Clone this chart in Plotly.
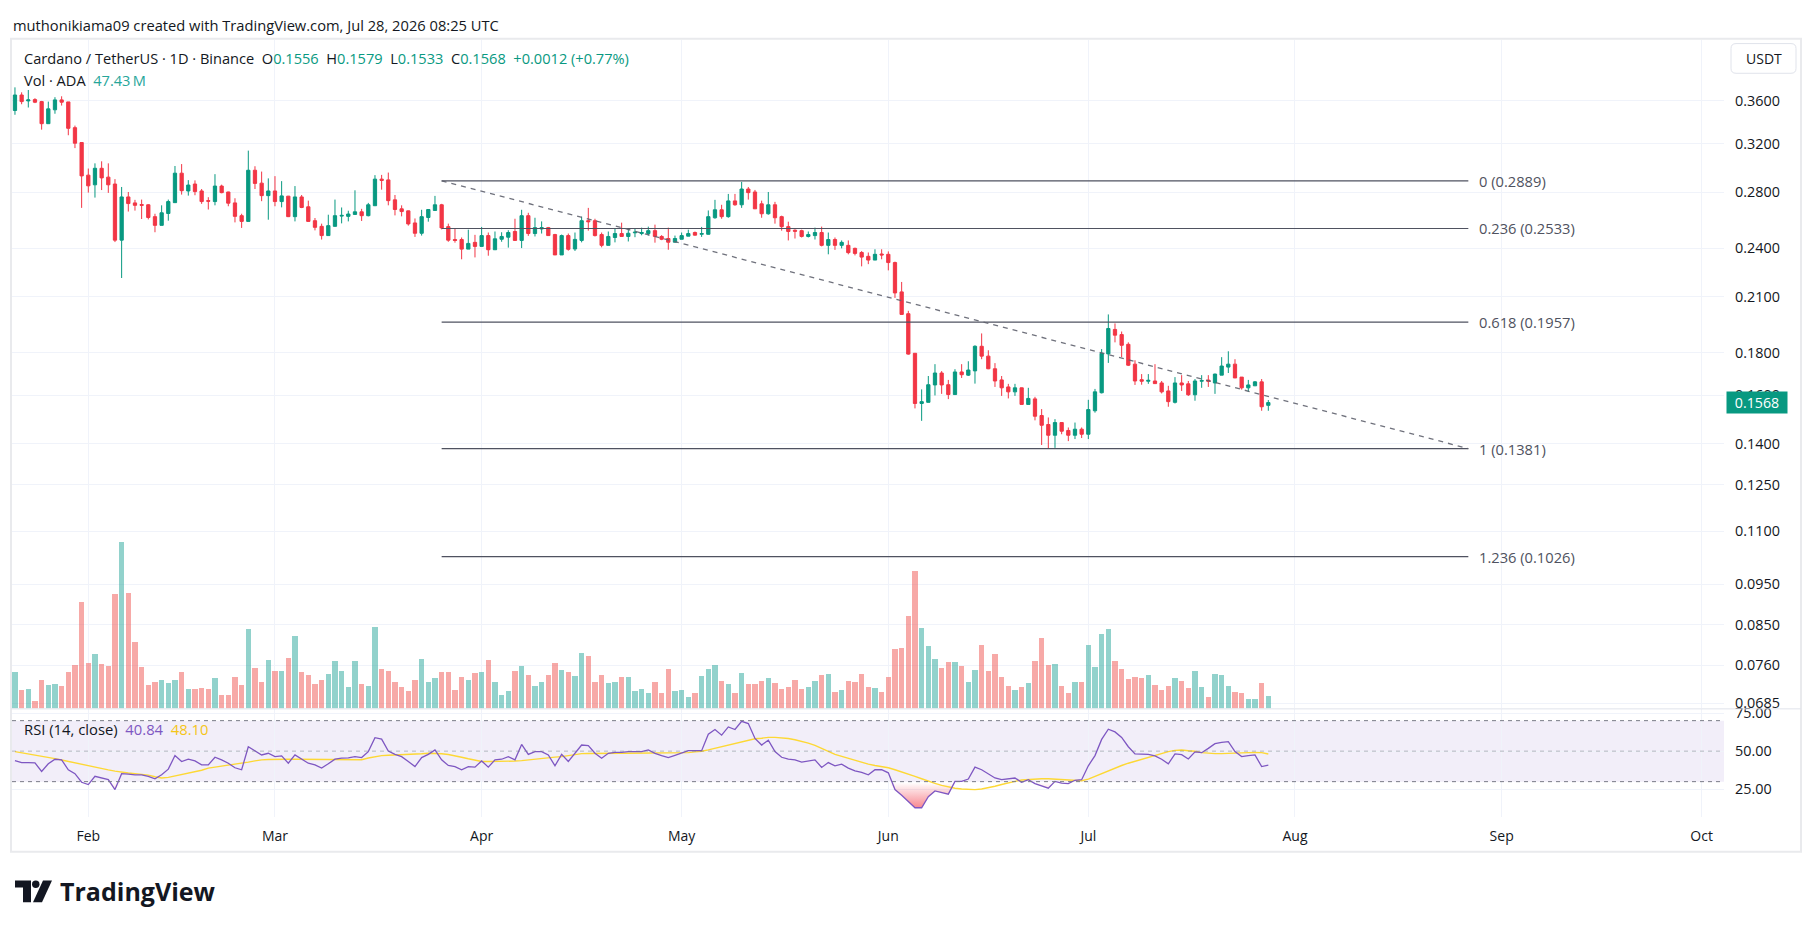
import math
import pandas as pd
import plotly.graph_objects as go

W, H = 1814, 931


def px(x):
    return x / W


def py(y):
    return 1 - y / H


# ---------------- data ----------------
dates = pd.date_range("2026-01-21", periods=189, freq="D")

opens = [
    0.3506, 0.3659, 0.3600, 0.3613, 0.3593, 0.3381, 0.3513, 0.3610, 0.3590, 0.3344,
    0.3210, 0.2934, 0.2857, 0.2990, 0.2918, 0.2863, 0.2453, 0.2763, 0.2718, 0.2706,
    0.2704, 0.2617, 0.2555, 0.2640, 0.2720, 0.2950, 0.2809, 0.2863, 0.2809, 0.2735,
    0.2728, 0.2847, 0.2801, 0.2718, 0.2624, 0.2583, 0.2974, 0.2870, 0.2773, 0.2809,
    0.2728, 0.2769, 0.2617, 0.2763, 0.2689, 0.2588, 0.2548, 0.2484, 0.2548, 0.2621,
    0.2619, 0.2633, 0.2652, 0.2624, 0.2697, 0.2902, 0.2896, 0.2741, 0.2674, 0.2659,
    0.2572, 0.2500, 0.2611, 0.2662, 0.2704, 0.2546, 0.2457, 0.2457, 0.2393, 0.2438,
    0.2411, 0.2484, 0.2389, 0.2459, 0.2473, 0.2512, 0.2451, 0.2624, 0.2498, 0.2530,
    0.2539, 0.2491, 0.2355, 0.2484, 0.2394, 0.2451, 0.2588, 0.2588, 0.2491, 0.2418,
    0.2471, 0.2498, 0.2478, 0.2503, 0.2498, 0.2498, 0.2518, 0.2478, 0.2464, 0.2439,
    0.2459, 0.2480, 0.2505, 0.2493, 0.2493, 0.2609, 0.2667, 0.2617, 0.2733, 0.2704,
    0.2824, 0.2801, 0.2711, 0.2638, 0.2704, 0.2617, 0.2546, 0.2521, 0.2518, 0.2478,
    0.2484, 0.2505, 0.2418, 0.2457, 0.2418, 0.2418, 0.2398, 0.2371, 0.2346, 0.2322,
    0.2361, 0.2359, 0.2306, 0.2127, 0.2003, 0.1796, 0.1564, 0.1569, 0.1646, 0.1701,
    0.1647, 0.1603, 0.1706, 0.1691, 0.1711, 0.1831, 0.1782, 0.1721, 0.1669, 0.1637,
    0.1615, 0.1633, 0.1560, 0.1584, 0.1513, 0.1476, 0.1433, 0.1484, 0.1452, 0.1433,
    0.1457, 0.1437, 0.1533, 0.1611, 0.1793, 0.1918, 0.1891, 0.1841, 0.1743, 0.1670,
    0.1663, 0.1664, 0.1655, 0.1619, 0.1569, 0.1655, 0.1651, 0.1602, 0.1663, 0.1668,
    0.1655, 0.1691, 0.1729, 0.1743, 0.1682, 0.1633, 0.1642, 0.1660, 0.1556,
]

highs = [
    0.3737, 0.3686, 0.3710, 0.3627, 0.3600, 0.3593, 0.3637, 0.3646, 0.3590, 0.3363,
    0.3210, 0.2988, 0.3031, 0.3048, 0.3031, 0.2902, 0.2840, 0.2801, 0.2741, 0.2743,
    0.2709, 0.2638, 0.2700, 0.2743, 0.3009, 0.3025, 0.2894, 0.2892, 0.2824, 0.2761,
    0.2942, 0.2858, 0.2803, 0.2753, 0.2638, 0.3139, 0.3007, 0.2963, 0.2908, 0.2926,
    0.2886, 0.2771, 0.2847, 0.2778, 0.2735, 0.2607, 0.2567, 0.2631, 0.2743, 0.2684,
    0.2660, 0.2814, 0.2674, 0.2718, 0.2934, 0.2936, 0.2955, 0.2778, 0.2700, 0.2661,
    0.2604, 0.2667, 0.2669, 0.2771, 0.2711, 0.2567, 0.2530, 0.2471, 0.2525, 0.2489,
    0.2544, 0.2505, 0.2512, 0.2507, 0.2521, 0.2602, 0.2667, 0.2645, 0.2609, 0.2583,
    0.2544, 0.2496, 0.2491, 0.2498, 0.2505, 0.2617, 0.2681, 0.2602, 0.2505, 0.2512,
    0.2530, 0.2574, 0.2530, 0.2530, 0.2539, 0.2546, 0.2560, 0.2487, 0.2539, 0.2484,
    0.2505, 0.2525, 0.2512, 0.2544, 0.2662, 0.2741, 0.2704, 0.2786, 0.2786, 0.2880,
    0.2840, 0.2817, 0.2735, 0.2801, 0.2726, 0.2624, 0.2581, 0.2527, 0.2525, 0.2512,
    0.2539, 0.2546, 0.2505, 0.2471, 0.2451, 0.2451, 0.2403, 0.2380, 0.2371, 0.2392,
    0.2392, 0.2378, 0.2312, 0.2186, 0.2019, 0.1796, 0.1626, 0.1687, 0.1743, 0.1710,
    0.1669, 0.1719, 0.1743, 0.1757, 0.1836, 0.1897, 0.1811, 0.1748, 0.1687, 0.1651,
    0.1651, 0.1634, 0.1633, 0.1593, 0.1540, 0.1505, 0.1498, 0.1485, 0.1464, 0.1484,
    0.1464, 0.1580, 0.1628, 0.1817, 0.1999, 0.1950, 0.1907, 0.1851, 0.1762, 0.1696,
    0.1696, 0.1743, 0.1664, 0.1642, 0.1682, 0.1691, 0.1664, 0.1673, 0.1691, 0.1691,
    0.1698, 0.1777, 0.1806, 0.1767, 0.1682, 0.1669, 0.1664, 0.1673, 0.1579,
]

lows = [
    0.3465, 0.3567, 0.3535, 0.3578, 0.3326, 0.3381, 0.3475, 0.3554, 0.3275, 0.3161,
    0.2681, 0.2796, 0.2758, 0.2816, 0.2794, 0.2440, 0.2210, 0.2654, 0.2661, 0.2600,
    0.2597, 0.2507, 0.2555, 0.2588, 0.2720, 0.2781, 0.2773, 0.2776, 0.2711, 0.2669,
    0.2700, 0.2791, 0.2693, 0.2576, 0.2537, 0.2583, 0.2824, 0.2731, 0.2595, 0.2693,
    0.2685, 0.2614, 0.2583, 0.2679, 0.2581, 0.2520, 0.2457, 0.2484, 0.2548, 0.2569,
    0.2583, 0.2631, 0.2586, 0.2619, 0.2697, 0.2819, 0.2700, 0.2626, 0.2619, 0.2553,
    0.2475, 0.2484, 0.2581, 0.2662, 0.2527, 0.2442, 0.2436, 0.2327, 0.2393, 0.2339,
    0.2411, 0.2350, 0.2389, 0.2442, 0.2403, 0.2449, 0.2400, 0.2482, 0.2478, 0.2498,
    0.2482, 0.2355, 0.2355, 0.2383, 0.2381, 0.2438, 0.2518, 0.2478, 0.2405, 0.2418,
    0.2438, 0.2478, 0.2444, 0.2473, 0.2486, 0.2484, 0.2436, 0.2453, 0.2389, 0.2439,
    0.2459, 0.2480, 0.2484, 0.2475, 0.2491, 0.2602, 0.2602, 0.2609, 0.2697, 0.2681,
    0.2743, 0.2674, 0.2609, 0.2631, 0.2567, 0.2518, 0.2451, 0.2464, 0.2471, 0.2471,
    0.2457, 0.2411, 0.2359, 0.2388, 0.2398, 0.2359, 0.2352, 0.2282, 0.2296, 0.2322,
    0.2327, 0.2257, 0.2092, 0.1997, 0.1789, 0.1543, 0.1491, 0.1569, 0.1599, 0.1606,
    0.1583, 0.1603, 0.1678, 0.1687, 0.1652, 0.1767, 0.1719, 0.1637, 0.1597, 0.1586,
    0.1597, 0.1559, 0.1560, 0.1493, 0.1395, 0.1380, 0.1384, 0.1437, 0.1410, 0.1418,
    0.1422, 0.1418, 0.1525, 0.1608, 0.1749, 0.1851, 0.1777, 0.1734, 0.1646, 0.1647,
    0.1651, 0.1651, 0.1608, 0.1550, 0.1564, 0.1619, 0.1597, 0.1576, 0.1633, 0.1637,
    0.1606, 0.1691, 0.1701, 0.1678, 0.1625, 0.1615, 0.1642, 0.1533, 0.1533,
]

closes = [
    0.3659, 0.3593, 0.3610, 0.3587, 0.3381, 0.3522, 0.3610, 0.3587, 0.3338, 0.3204,
    0.2928, 0.2849, 0.2990, 0.2912, 0.2857, 0.2453, 0.2763, 0.2713, 0.2700, 0.2700,
    0.2611, 0.2555, 0.2645, 0.2728, 0.2950, 0.2811, 0.2855, 0.2804, 0.2728, 0.2731,
    0.2847, 0.2796, 0.2716, 0.2619, 0.2583, 0.2974, 0.2868, 0.2773, 0.2809, 0.2728,
    0.2771, 0.2617, 0.2763, 0.2684, 0.2583, 0.2541, 0.2484, 0.2553, 0.2624, 0.2626,
    0.2636, 0.2652, 0.2624, 0.2704, 0.2902, 0.2892, 0.2735, 0.2669, 0.2654, 0.2565,
    0.2500, 0.2617, 0.2669, 0.2704, 0.2537, 0.2453, 0.2451, 0.2393, 0.2431, 0.2411,
    0.2484, 0.2389, 0.2462, 0.2478, 0.2505, 0.2451, 0.2624, 0.2498, 0.2539, 0.2539,
    0.2484, 0.2355, 0.2484, 0.2392, 0.2458, 0.2588, 0.2581, 0.2484, 0.2418, 0.2478,
    0.2498, 0.2478, 0.2500, 0.2507, 0.2505, 0.2518, 0.2478, 0.2459, 0.2439, 0.2464,
    0.2484, 0.2498, 0.2487, 0.2498, 0.2617, 0.2667, 0.2617, 0.2733, 0.2704, 0.2824,
    0.2796, 0.2674, 0.2638, 0.2704, 0.2609, 0.2546, 0.2512, 0.2514, 0.2478, 0.2491,
    0.2505, 0.2418, 0.2457, 0.2418, 0.2438, 0.2370, 0.2365, 0.2341, 0.2322, 0.2359,
    0.2355, 0.2306, 0.2121, 0.1999, 0.1792, 0.1564, 0.1572, 0.1647, 0.1701, 0.1646,
    0.1603, 0.1706, 0.1693, 0.1715, 0.1831, 0.1782, 0.1721, 0.1664, 0.1633, 0.1615,
    0.1633, 0.1560, 0.1586, 0.1510, 0.1473, 0.1433, 0.1484, 0.1449, 0.1433, 0.1457,
    0.1437, 0.1538, 0.1615, 0.1796, 0.1923, 0.1888, 0.1836, 0.1738, 0.1664, 0.1663,
    0.1667, 0.1652, 0.1615, 0.1572, 0.1655, 0.1646, 0.1602, 0.1664, 0.1666, 0.1663,
    0.1696, 0.1734, 0.1743, 0.1678, 0.1633, 0.1646, 0.1660, 0.1550, 0.1568,
]

# daily volume, millions of ADA
volumes = [
    135.1, 69.4, 73.0, 29.2, 105.9, 87.6, 91.3, 84.0, 135.1, 160.6,
    394.2, 167.9, 200.8, 164.3, 157.0, 423.4, 616.9, 427.1, 244.6, 153.3,
    87.6, 98.6, 105.9, 94.9, 105.9, 135.1, 73.0, 73.0, 76.7, 73.0,
    113.2, 51.1, 51.1, 116.8, 87.6, 295.7, 149.7, 98.6, 178.9, 138.7,
    138.7, 186.2, 270.1, 135.1, 124.1, 91.3, 105.9, 127.8, 175.2, 138.7,
    80.3, 175.2, 91.3, 84.0, 303.0, 146.0, 138.7, 98.6, 80.3, 65.7,
    105.9, 182.5, 98.6, 113.2, 135.1, 135.1, 69.4, 116.8, 105.9, 131.4,
    135.1, 178.9, 98.6, 51.1, 65.7, 138.7, 157.0, 124.1, 84.0, 98.6,
    124.1, 167.9, 142.4, 135.1, 120.5, 204.4, 193.5, 98.6, 124.1, 94.9,
    98.6, 116.8, 116.8, 65.7, 73.0, 58.4, 98.6, 58.4, 146.0, 65.7,
    69.4, 43.8, 58.4, 120.5, 146.0, 160.6, 102.2, 91.3, 58.4, 131.4,
    91.3, 91.3, 102.2, 113.2, 94.9, 73.0, 80.3, 105.9, 73.0, 80.3,
    102.2, 124.1, 127.8, 62.1, 69.4, 102.2, 98.6, 127.8, 80.3, 76.7,
    62.1, 116.8, 219.0, 222.7, 343.1, 507.4, 299.3, 230.0, 182.5, 149.7,
    171.6, 171.6, 157.0, 98.6, 142.4, 233.6, 138.7, 200.8, 116.8, 84.0,
    69.4, 80.3, 94.9, 175.2, 259.2, 160.6, 164.3, 84.0, 58.4, 98.6,
    98.6, 233.6, 153.3, 277.4, 295.7, 175.2, 146.0, 109.5, 116.8, 113.2,
    124.1, 87.6, 69.4, 84.0, 113.2, 102.2, 76.7, 138.7, 80.3, 43.8,
    127.8, 124.1, 84.0, 62.1, 58.4, 36.5, 36.5, 94.9, 47.43,
]

rsi_values = [
    43.8, 42.5, 42.5, 42.3, 36.7, 41.7, 44.7, 44.3, 37.8, 35.2,
    29.6, 28.1, 33.5, 32.4, 31.3, 24.8, 35.2, 35.0, 34.5, 34.5,
    33.5, 31.9, 34.5, 38.2, 47.1, 43.2, 44.7, 43.6, 41.0, 41.0,
    46.0, 44.3, 42.1, 39.1, 37.8, 52.9, 50.3, 47.5, 48.6, 46.4,
    46.9, 42.1, 47.5, 44.7, 42.1, 41.0, 38.9, 41.7, 44.7, 45.4,
    45.6, 46.4, 45.8, 49.7, 58.8, 57.9, 50.1, 47.9, 46.4, 43.2,
    39.9, 45.8, 47.9, 50.8, 44.3, 40.6, 39.9, 37.8, 39.9, 39.5,
    43.6, 39.5, 44.3, 44.7, 46.4, 44.3, 54.4, 47.9, 49.7, 49.7,
    47.5, 40.4, 47.9, 43.2, 48.6, 54.0, 53.6, 48.6, 45.4, 48.6,
    49.2, 49.2, 49.7, 49.9, 49.7, 50.8, 48.6, 47.1, 45.8, 47.3,
    48.6, 50.3, 50.3, 50.3, 61.1, 64.2, 60.5, 65.9, 64.2, 69.6,
    68.1, 58.3, 54.0, 57.2, 49.7, 46.0, 44.7, 44.3, 42.8, 43.6,
    44.3, 39.3, 42.5, 40.4, 41.5, 38.9, 37.1, 36.1, 34.5, 37.8,
    37.8, 35.8, 24.8, 21.1, 17.2, 12.9, 12.9, 20.1, 23.9, 22.9,
    21.8, 30.2, 30.2, 31.7, 39.5, 37.8, 35.0, 32.4, 31.3, 31.7,
    32.4, 29.6, 31.3, 28.7, 27.0, 25.7, 30.2, 29.1, 28.7, 30.9,
    31.3, 40.4, 47.1, 57.7, 64.4, 62.6, 59.0, 52.9, 48.2, 47.9,
    47.9, 46.9, 44.7, 41.7, 48.2, 47.7, 44.9, 49.5, 49.0, 51.8,
    54.9, 55.7, 56.2, 49.7, 46.4, 47.1, 47.5, 39.9, 40.84,
]

rsi_ma_values = [
    49.7, 49.0, 48.3, 47.6, 46.9, 46.0, 45.1, 44.2, 43.2, 42.2,
    41.3, 40.3, 39.3, 38.5, 37.7, 36.9, 36.1, 35.7, 35.3, 35.0,
    34.3, 33.2, 32.4, 32.8, 33.7, 34.6, 35.6, 36.5, 37.5, 38.9,
    39.5, 40.0, 40.6, 41.2, 42.0, 42.8, 43.6, 44.3, 44.5, 44.7,
    44.7, 44.7, 44.7, 44.7, 44.7, 44.7, 44.7, 44.7, 44.6, 44.5,
    44.3, 44.4, 44.4, 45.5, 46.5, 47.1, 47.3, 47.4, 47.5, 47.7,
    48.0, 48.3, 48.6, 48.6, 48.3, 47.8, 47.1, 46.0, 45.0, 44.0,
    43.2, 43.2, 43.2, 43.2, 43.3, 43.5, 43.8, 44.3, 44.8, 45.4,
    45.8, 46.1, 46.4, 47.0, 47.8, 48.4, 48.5, 48.6, 48.6, 48.6,
    48.6, 48.6, 48.6, 48.6, 48.6, 48.6, 48.6, 48.6, 48.6, 48.6,
    48.8, 49.0, 49.5, 49.9, 50.8, 51.8, 52.7, 53.6, 54.6, 55.9,
    56.8, 58.1, 58.5, 59.0, 59.0, 58.8, 58.3, 57.5, 56.6, 55.3,
    53.8, 51.6, 49.9, 47.9, 46.6, 45.4, 44.1, 42.8, 41.5, 40.6,
    39.9, 39.1, 37.8, 36.5, 35.0, 33.5, 31.9, 30.2, 28.9, 27.6,
    26.5, 25.7, 25.2, 24.8, 24.8, 25.2, 25.9, 27.0, 28.1, 29.4,
    30.2, 31.1, 31.5, 31.9, 31.9, 31.9, 31.7, 31.5, 31.1, 30.9,
    30.6, 31.7, 33.5, 35.2, 37.4, 39.1, 40.6, 42.1, 43.4, 44.7,
    45.8, 47.3, 48.6, 49.7, 50.5, 50.8, 50.3, 49.9, 49.0, 48.6,
    48.4, 48.4, 48.6, 49.0, 49.2, 49.2, 49.2, 49.0, 48.1,
]

for arr in (opens, highs, lows, closes, volumes, rsi_values, rsi_ma_values):
    assert len(arr) == len(dates), len(arr)

price_ticks = [0.36, 0.32, 0.28, 0.24, 0.21, 0.18, 0.16, 0.14, 0.125, 0.11,
               0.095, 0.085, 0.076, 0.0685]
price_tick_text = [f"{v:.4f}" for v in price_ticks]
rsi_ticks = [25, 50, 75]
rsi_tick_text = [f"{v:.2f}" for v in rsi_ticks]
month_ticks = list(pd.date_range("2026-02-01", "2026-10-01", freq="MS"))
month_labels = [d.strftime("%b") for d in month_ticks]

fib_t0, fib_t1 = "2026-03-26", "2026-08-27"
fib_p0, fib_p1 = 0.28888, 0.13814
fib_levels = [0, 0.236, 0.618, 1, 1.236]

last_price = 0.1568
ohlc_last = dict(o="0.1556", h="0.1579", l="0.1533", c="0.1568", chg="+0.0012 (+0.77%)")
vol_last = "47.43\u2009M"
rsi_last, rsi_ma_last = "40.84", "48.10"

# ---------------- styles ----------------
GREEN = "#089981"
RED = "#f23645"
TXT = "#131722"
GRID = "#f0f3fa"
FONT = "'Open Sans', Roboto, sans-serif"
FIB_C = "#4f5260"

x_left, x_right = 12, 1724
price_top, price_bot = 34, 710
rsi_top, rsi_bot = 711, 820
x_range = ["2026-01-20 13:20:00", "2026-10-04 08:24:00"]
price_range = [math.log10(0.06752), math.log10(0.4262)]
rsi_range = [6.7, 77.4]
vol_range = [0, (price_bot - price_top) * 3.65]

fig = go.Figure()

# volume (overlay on price pane)
vol_colors = ["rgba(38,166,154,0.5)" if c >= o else "rgba(239,83,80,0.5)"
              for o, c in zip(opens, closes)]
fig.add_trace(go.Bar(
    x=dates, y=volumes, marker=dict(color=vol_colors, line=dict(width=0)),
    width=0.78 * 86400000, xaxis="x", yaxis="y3", hoverinfo="skip", showlegend=False))

# candles
fig.add_trace(go.Candlestick(
    x=dates, open=opens, high=highs, low=lows, close=closes,
    increasing=dict(line=dict(color=GREEN, width=1), fillcolor=GREEN),
    decreasing=dict(line=dict(color=RED, width=1), fillcolor=RED),
    whiskerwidth=0, xaxis="x", yaxis="y", hoverinfo="skip", showlegend=False))

# fib retracement levels
annotations = []
for lvl in fib_levels:
    p = fib_p0 - lvl * (fib_p0 - fib_p1)
    fig.add_trace(go.Scatter(
        x=[fib_t0, fib_t1], y=[p, p], mode="lines",
        line=dict(color=FIB_C, width=1.2), xaxis="x", yaxis="y",
        hoverinfo="skip", showlegend=False))
    annotations.append(dict(
        x=fib_t1, y=math.log10(p), xref="x", yref="y", xanchor="left", yanchor="middle",
        xshift=9, text=f"{lvl:g} ({p:.4f})", showarrow=False,
        font=dict(family=FONT, size=14.7, color=FIB_C)))

# fib trend line (dashed)
fig.add_trace(go.Scatter(
    x=[fib_t0, fib_t1], y=[fib_p0, fib_p1], mode="lines",
    line=dict(color="rgba(95,98,110,0.9)", width=1.3, dash="5px,5px"),
    xaxis="x", yaxis="y", hoverinfo="skip", showlegend=False))

# RSI oversold gradient fill
fig.add_trace(go.Scatter(
    x=dates, y=[30] * len(dates), mode="lines", line=dict(width=0, color="rgba(0,0,0,0)"),
    xaxis="x", yaxis="y2", hoverinfo="skip", showlegend=False))
fig.add_trace(go.Scatter(
    x=dates, y=[min(v, 30) for v in rsi_values], mode="lines",
    line=dict(width=0, color="rgba(0,0,0,0)"), fill="tonexty",
    fillgradient=dict(type="vertical", start=12, stop=30,
                      colorscale=[[0, "rgba(242,54,69,0.65)"], [1, "rgba(242,54,69,0.0)"]]),
    xaxis="x", yaxis="y2", hoverinfo="skip", showlegend=False))

fig.add_trace(go.Scatter(
    x=dates, y=rsi_ma_values, mode="lines", line=dict(color="#fdd835", width=1.4),
    xaxis="x", yaxis="y2", hoverinfo="skip", showlegend=False))
fig.add_trace(go.Scatter(
    x=dates, y=rsi_values, mode="lines", line=dict(color="#7e57c2", width=1.3),
    xaxis="x", yaxis="y2", hoverinfo="skip", showlegend=False))

# ---------------- shapes ----------------
shapes = [
    # RSI band + levels
    dict(type="rect", xref="x domain", yref="y2", x0=0, x1=1, y0=30, y1=70,
         fillcolor="rgba(126,87,194,0.1)", line=dict(width=0), layer="below"),
    dict(type="line", xref="x domain", yref="y2", x0=0, x1=1, y0=70, y1=70,
         line=dict(color="#787b86", width=1, dash="4px,4px")),
    dict(type="line", xref="x domain", yref="y2", x0=0, x1=1, y0=30, y1=30,
         line=dict(color="#787b86", width=1, dash="4px,4px")),
    dict(type="line", xref="x domain", yref="y2", x0=0, x1=1, y0=50, y1=50,
         line=dict(color="rgba(120,123,134,0.5)", width=1, dash="4px,4px")),
    # chart frame
    dict(type="rect", xref="paper", yref="paper", x0=px(11), x1=px(1801), y0=py(855), y1=py(33),
         line=dict(color="#e9eaed", width=2), fillcolor="rgba(0,0,0,0)", layer="below"),
    # pane separator
    dict(type="line", xref="paper", yref="paper", x0=px(11), x1=px(1801), y0=py(710.5), y1=py(710.5),
         line=dict(color="#e0e3eb", width=1)),
]

# USDT button (rounded)
bx0, bx1, by0, by1, r = 1731, 1796, 38, 68, 5
path = (f"M {px(bx0 + r)},{py(by0)} L {px(bx1 - r)},{py(by0)} "
        f"Q {px(bx1)},{py(by0)} {px(bx1)},{py(by0 + r)} L {px(bx1)},{py(by1 - r)} "
        f"Q {px(bx1)},{py(by1)} {px(bx1 - r)},{py(by1)} L {px(bx0 + r)},{py(by1)} "
        f"Q {px(bx0)},{py(by1)} {px(bx0)},{py(by1 - r)} L {px(bx0)},{py(by0 + r)} "
        f"Q {px(bx0)},{py(by0)} {px(bx0 + r)},{py(by0)} Z")
shapes.append(dict(type="path", xref="paper", yref="paper", path=path,
                   line=dict(color="#e0e3eb", width=1), fillcolor="white"))


# TradingView logo glyph
def poly(pts):
    return "M " + " L ".join(f"{px(a)},{py(b)}" for a, b in pts) + " Z"


shapes += [
    dict(type="path", xref="paper", yref="paper",
         path=poly([(15, 884), (31, 884), (31, 906), (23, 906), (23, 891), (15, 891)]),
         fillcolor="#131722", line=dict(width=0)),
    dict(type="circle", xref="paper", yref="paper", x0=px(32), x1=px(39.5), y0=py(891.5), y1=py(884),
         fillcolor="#131722", line=dict(width=0)),
    dict(type="path", xref="paper", yref="paper",
         path=poly([(43, 884), (52, 884), (42, 906), (33, 906)]),
         fillcolor="#131722", line=dict(width=0)),
]


# ---------------- annotations ----------------
def ann(x, y, text, size=13, color=TXT, anchor="left", **kw):
    d = dict(x=px(x), y=py(y), xref="paper", yref="paper", xanchor=anchor, yanchor="middle",
             text=text, showarrow=False, font=dict(family=FONT, size=size, color=color))
    d.update(kw)
    return d


g = lambda s: f"<span style='color:{GREEN}'>{s}</span>"
nb = "\u00a0"
annotations += [
    ann(11, 19, "muthonikiama09 created with TradingView.com, Jul 28, 2026 08:25 UTC", size=14.7),
    ann(22, 52.5, f"Cardano / TetherUS · 1D · Binance{nb}{nb}O{g(ohlc_last['o'])}{nb}{nb}H{g(ohlc_last['h'])}"
                  f"{nb}{nb}L{g(ohlc_last['l'])}{nb}{nb}C{g(ohlc_last['c'])}{nb}{nb}{g(ohlc_last['chg'])}",
        size=14.6),
    ann(22, 74.5, f"Vol · ADA{nb}{nb}<span style='color:#26a69a'>{vol_last}</span>", size=14.6),
    ann(22, 731, f"RSI (14, close){nb}{nb}<span style='color:#7e57c2'>{rsi_last}</span>{nb}{nb}"
                 f"<span style='color:#f5c518'>{rsi_ma_last}</span>", size=14.8),
    ann(1763.5, 53, "USDT", size=14, anchor="center"),
    ann(58, 895, "<b>TradingView</b>", size=25),
    dict(x=px(1726), y=math.log10(last_price), xref="paper", yref="y", xanchor="left", yanchor="middle",
         text=f"{last_price:.4f}", showarrow=False, bgcolor=GREEN, width=58, height=19,
         font=dict(family=FONT, size=14.2, color="white")),
]

# ---------------- layout ----------------
y_tick_font = dict(family=FONT, size=14.4, color=TXT)
x_tick_font = dict(family=FONT, size=14, color=TXT)
fig.update_layout(
    width=W, height=H, autosize=False,
    margin=dict(l=0, r=0, t=0, b=0, pad=0),
    paper_bgcolor="white", plot_bgcolor="rgba(0,0,0,0)",
    showlegend=False, hovermode=False, bargap=0,
    xaxis=dict(domain=[px(x_left), px(x_right)], anchor="y2", type="date", range=x_range,
               tickvals=month_ticks, ticktext=month_labels, tickfont=x_tick_font,
               showgrid=True, gridcolor=GRID, gridwidth=1, zeroline=False, showline=False,
               ticks="", ticklabelstandoff=9, rangeslider=dict(visible=False), fixedrange=True),
    yaxis=dict(domain=[py(price_bot), py(price_top)], anchor="x", side="right", type="log",
               range=price_range, tickvals=price_ticks, ticktext=price_tick_text, tickfont=y_tick_font,
               showgrid=True, gridcolor=GRID, zeroline=False, showline=False, ticks="",
               ticklabelstandoff=10),
    yaxis2=dict(domain=[py(rsi_bot), py(rsi_top)], anchor="x", side="right", range=rsi_range,
                tickvals=rsi_ticks, ticktext=rsi_tick_text, tickfont=y_tick_font,
                showgrid=True, gridcolor=GRID, zeroline=False, showline=False, ticks="",
                ticklabelstandoff=10),
    yaxis3=dict(overlaying="y", anchor="x", side="left", range=vol_range, visible=False,
                showgrid=False, zeroline=False),
    shapes=shapes,
    annotations=annotations,
)

fig.write_html("out.html")
